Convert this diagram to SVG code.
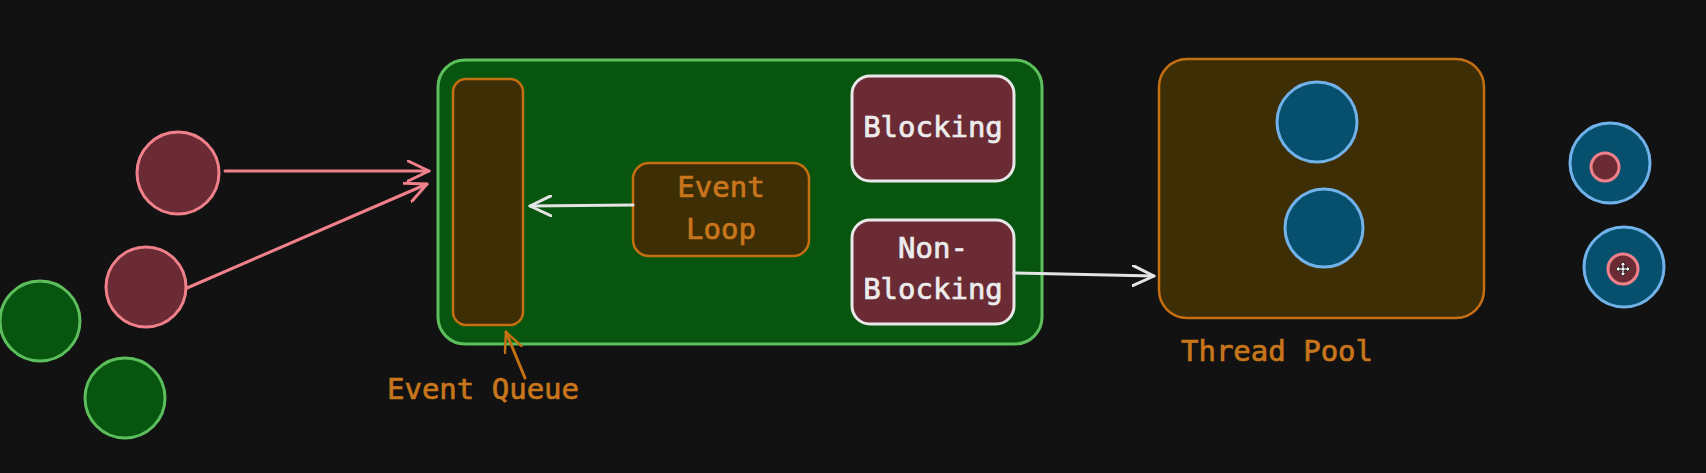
<svg xmlns="http://www.w3.org/2000/svg" width="1706" height="473" viewBox="0 0 1706 473">
<defs>
<style>
.t{font-family:"DejaVu Sans Mono","Liberation Mono",monospace;font-size:29px;text-anchor:middle;dominant-baseline:central;stroke-width:0.7px}
.or{fill:#c8761c;stroke:#c8761c}
.wh{fill:#ececec;stroke:#ececec}
.red{fill:#6b2b35;stroke:#f0808a;stroke-width:3}
.grn{fill:#07550f;stroke:#5cbf5c;stroke-width:3}
.blu{fill:#06506e;stroke:#72b2ea;stroke-width:3}
.brn{fill:#3e2e06;stroke:#c46f12;stroke-width:2.5}
.blk{fill:#6b2b35;stroke:#e8e8e8;stroke-width:3}
.cn{fill:none;stroke-width:3;stroke-linecap:round;stroke-linejoin:round}
</style>
<marker id="ar" viewBox="0 0 24 22" refX="22" refY="11" markerWidth="24" markerHeight="22" markerUnits="userSpaceOnUse" orient="auto">
<path d="M1,1 L22,11 L1,21" fill="none" stroke="#f0808a" stroke-width="3" stroke-linecap="round" stroke-linejoin="round"/>
</marker>
<marker id="aw" viewBox="0 0 24 22" refX="22" refY="11" markerWidth="24" markerHeight="22" markerUnits="userSpaceOnUse" orient="auto">
<path d="M1,1 L22,11 L1,21" fill="none" stroke="#e4e4e4" stroke-width="3" stroke-linecap="round" stroke-linejoin="round"/>
</marker>
<marker id="ao" viewBox="0 0 22 20" refX="20" refY="10" markerWidth="22" markerHeight="20" markerUnits="userSpaceOnUse" orient="auto">
<path d="M1,1 L20,10 L1,19" fill="none" stroke="#c46f12" stroke-width="2.5" stroke-linecap="round" stroke-linejoin="round"/>
</marker>
</defs>
<rect width="1706" height="473" fill="#121212"/>

<g id="req1"><circle class="red" cx="178" cy="173" r="41"/></g>
<g id="req2"><circle class="red" cx="146" cy="287" r="40"/></g>
<g id="req3"><circle class="grn" cx="40" cy="321" r="40"/></g>
<g id="req4"><circle class="grn" cx="125" cy="398" r="40"/></g>

<g id="server"><rect class="grn" x="438" y="60" width="604" height="284" rx="27"/></g>
<g id="event-queue"><rect class="brn" x="453" y="79" width="70" height="246" rx="13"/></g>
<g id="event-queue-label"><text class="t or" x="483" y="389">Event Queue</text></g>
<g id="event-loop"><rect class="brn" x="633" y="163" width="176" height="93" rx="16"/>
<text class="t or" x="721" y="187">Event</text><text class="t or" x="721" y="229">Loop</text></g>
<g id="blocking"><rect class="blk" x="852" y="76" width="162" height="105" rx="18"/>
<text class="t wh" x="933" y="127">Blocking</text></g>
<g id="non-blocking"><rect class="blk" x="852" y="220" width="162" height="104" rx="18"/>
<text class="t wh" x="933" y="248">Non-</text><text class="t wh" x="933" y="289">Blocking</text></g>

<g id="thread-pool"><rect class="brn" x="1159" y="59" width="325" height="259" rx="28"/>
<circle class="blu" cx="1317" cy="122" r="40"/>
<circle class="blu" cx="1324" cy="228" r="39"/></g>
<g id="thread-pool-label"><text class="t or" x="1277" y="351">Thread Pool</text></g>

<g id="done1"><circle class="blu" cx="1610" cy="163" r="40"/><circle class="red" cx="1605" cy="167" r="14"/></g>
<g id="done2"><circle class="blu" cx="1624" cy="267" r="40"/><circle class="red" cx="1623" cy="269" r="15"/>
<path d="M1623,262 l3,3 h-2 v3 h3 v-2 l3,3 l-3,3 v-2 h-3 v3 h2 l-3,3 l-3,-3 h2 v-3 h-3 v2 l-3,-3 l3,-3 v2 h3 v-3 h-2 z" fill="#fff" stroke="#222" stroke-width="0.8"/></g>

<g id="connectors">
<path class="cn" d="M225,171 L429,171" stroke="#f0808a" marker-end="url(#ar)"/>
<path class="cn" d="M187,288 L427,184" stroke="#f0808a" marker-end="url(#ar)"/>
<path class="cn" d="M633,205 L530,206" stroke="#e4e4e4" marker-end="url(#aw)"/>
<path class="cn" d="M1014,273 L1154,276" stroke="#e4e4e4" marker-end="url(#aw)"/>
<path class="cn" d="M525,378 L506,332" stroke="#c46f12" stroke-width="2.5" marker-end="url(#ao)"/>
</g>
</svg>
